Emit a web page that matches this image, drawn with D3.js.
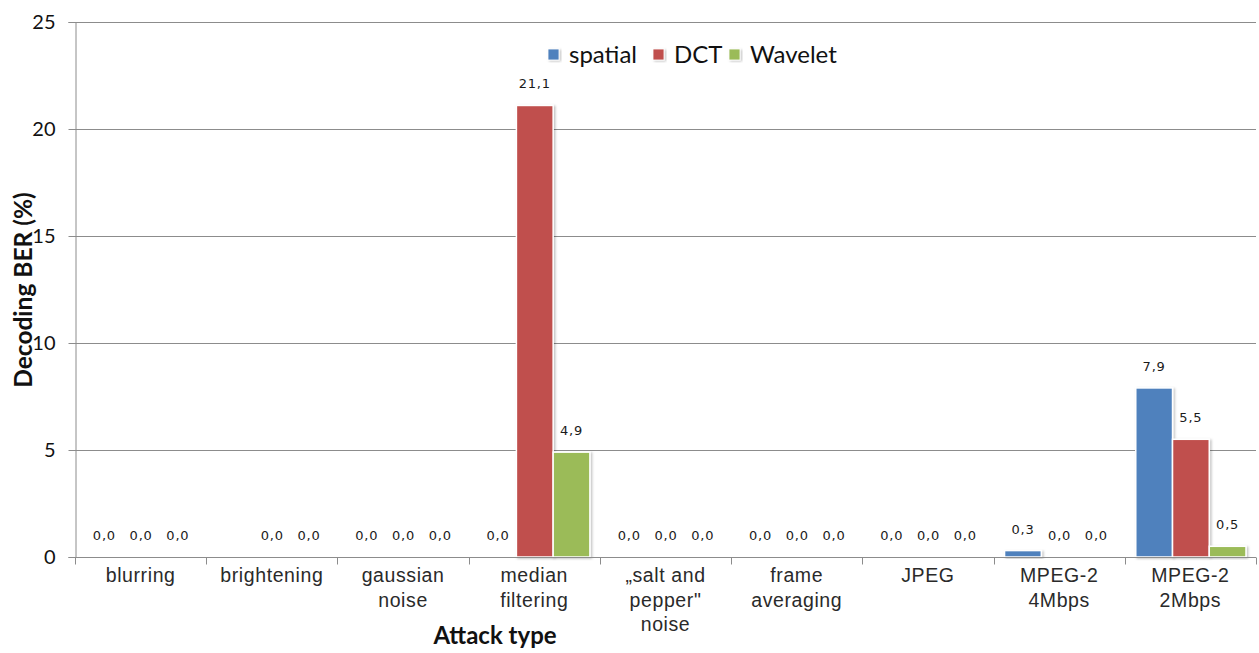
<!DOCTYPE html>
<html>
<head>
<meta charset="utf-8">
<script src="https://cdn.jsdelivr.net/npm/d3@7"></script>
<style>
  html, body { margin: 0; padding: 0; background: #fff; }
  svg { display: block; }
</style>
</head>
<body>
<svg id="chart" width="1259" height="653"></svg>
<script>
// Attack types (each entry split into the lines drawn under the axis)
const categories = [
  ["blurring"],
  ["brightening"],
  ["gaussian", "noise"],
  ["median", "filtering"],
  ["\u201Esalt and", "pepper\"", "noise"],
  ["frame", "averaging"],
  ["JPEG"],
  ["MPEG-2", "4Mbps"],
  ["MPEG-2", "2Mbps"]
];
const seriesNames = ["spatial", "DCT", "Wavelet"];
const spatial = [0.0, null, 0.0, 0.0, 0.0, 0.0, 0.0, 0.3, 7.9];
const dct     = [0.0, 0.0, 0.0, 21.1, 0.0, 0.0, 0.0, 0.0, 5.5];
const wavelet = [0.0, 0.0, 0.0, 4.9, 0.0, 0.0, 0.0, 0.0, 0.5];
const yTicks = [0, 5, 10, 15, 20, 25];
const colors = ["#4F81BD", "#C0504D", "#9BBB59"];

const series = [spatial, dct, wavelet];
const svg = d3.select("#chart");
const plotLeft = 75, plotRight = 1256, plotTop = 22, plotBottom = 557;
const titleFont = "Lato, 'Open Sans', sans-serif";

const x = d3.scaleBand()
  .domain(d3.range(categories.length))
  .range([plotLeft, plotRight])
  .paddingInner(0).paddingOuter(0);

// three bars side by side inside each category, with a gap at both ends
const gapEnd = x.bandwidth() * 0.08;
const inner = d3.scaleBand()
  .domain(d3.range(series.length))
  .range([gapEnd + 0.5, x.bandwidth() - gapEnd + 0.5])
  .paddingInner(0).paddingOuter(0);

const y = d3.scaleLinear().domain([0, 25]).range([plotBottom, plotTop]);

const fmt = v => d3.format(".1f")(v).replace(".", ",");

// drop shadow for the bars
const defs = svg.append("defs");
const f = defs.append("filter").attr("id", "shadow")
  .attr("x", "-20%").attr("y", "-20%").attr("width", "140%").attr("height", "140%");
f.append("feDropShadow").attr("dx", 1.5).attr("dy", 1).attr("stdDeviation", 1.2)
  .attr("flood-color", "#000").attr("flood-opacity", 0.25);

// gridlines
svg.append("g")
  .selectAll("line")
  .data(yTicks.filter(t => t > 0))
  .join("line")
  .attr("x1", plotLeft).attr("x2", plotRight)
  .attr("y1", d => Math.round(y(d)) + 0.5).attr("y2", d => Math.round(y(d)) + 0.5)
  .attr("stroke", "#8c8c8c").attr("stroke-width", 1);

// y axis
const yAxis = svg.append("g")
  .attr("transform", `translate(${plotLeft + 0.5},0)`)
  .call(d3.axisLeft(y).tickValues(yTicks).tickSize(7).tickPadding(13).tickFormat(d3.format("d")));
yAxis.select(".domain").attr("stroke", "#8c8c8c");
yAxis.selectAll(".tick line").attr("stroke", "#8c8c8c");
yAxis.selectAll(".tick text")
  .attr("font-family", titleFont)
  .attr("font-size", 20).attr("fill", "#111");

// bars
const groups = svg.append("g")
  .selectAll("g")
  .data(categories.map((c, i) => i))
  .join("g")
  .attr("transform", i => `translate(${x(i)},0)`);

groups.selectAll("rect")
  .data(i => series.map((s, k) => ({ k, v: s[i] })).filter(d => d.v !== null && d.v > 0))
  .join("rect")
  .attr("x", d => inner(d.k))
  .attr("width", inner.bandwidth())
  .attr("y", d => y(d.v))
  .attr("height", d => y(0) - y(d.v))
  .attr("fill", d => colors[d.k])
  .attr("stroke", "#fff").attr("stroke-width", 1.5)
  .attr("filter", "url(#shadow)");

// value labels
groups.selectAll("text")
  .data(i => series.map((s, k) => ({ k, v: s[i] })).filter(d => d.v !== null))
  .join("text")
  .attr("x", d => inner(d.k) + inner.bandwidth() / 2)
  .attr("y", d => y(d.v) - 17)
  .attr("text-anchor", "middle")
  .attr("font-family", "'DejaVu Sans', sans-serif")
  .attr("font-size", 13)
  .attr("letter-spacing", 0.8)
  .attr("fill", "#1a1a1a")
  .text(d => fmt(d.v));

// x axis
const xAxis = svg.append("g")
  .attr("transform", `translate(0,${plotBottom + 0.5})`);
xAxis.append("line").attr("x1", plotLeft).attr("x2", plotRight)
  .attr("stroke", "#8c8c8c");
xAxis.selectAll("line.tk")
  .data(d3.range(categories.length + 1))
  .join("line").attr("class", "tk")
  .attr("x1", i => Math.round(plotLeft + i * x.step()) + 0.5)
  .attr("x2", i => Math.round(plotLeft + i * x.step()) + 0.5)
  .attr("y1", 0).attr("y2", 7)
  .attr("stroke", "#8c8c8c");

const catLabels = svg.append("g")
  .selectAll("text")
  .data(categories.map((c, i) => ({ c, i })))
  .join("text")
  .attr("x", d => x(d.i) + x.bandwidth() / 2)
  .attr("y", 582)
  .attr("text-anchor", "middle")
  .attr("font-family", "'Liberation Sans', Arial, sans-serif")
  .attr("font-size", 19.5)
  .attr("letter-spacing", 0.6)
  .attr("fill", "#2a2a2a");
catLabels.selectAll("tspan")
  .data(d => d.c.map((line, j) => ({ line, j, cx: x(d.i) + x.bandwidth() / 2 })))
  .join("tspan")
  .attr("x", d => d.cx)
  .attr("dy", d => d.j === 0 ? 0 : 24.5)
  .text(d => d.line);

// axis titles
svg.append("text")
  .attr("transform", "translate(32,290) rotate(-90)")
  .attr("text-anchor", "middle")
  .attr("font-family", titleFont)
  .attr("font-weight", "bold").attr("font-size", 24.5)
  .attr("fill", "#111")
  .text("Decoding BER (%)");

svg.append("text")
  .attr("x", 495).attr("y", 644)
  .attr("text-anchor", "middle")
  .attr("font-family", titleFont)
  .attr("font-weight", "bold").attr("font-size", 24)
  .attr("fill", "#111")
  .text("Attack type");

// legend
const legendItems = [
  { name: seriesNames[0], x: 548 },
  { name: seriesNames[1], x: 653 },
  { name: seriesNames[2], x: 729 }
];
const lg = svg.append("g").selectAll("g")
  .data(legendItems.map((d, k) => ({ ...d, k })))
  .join("g")
  .attr("transform", d => `translate(${d.x},0)`);
lg.append("rect")
  .attr("x", 0).attr("y", 49).attr("width", 11).attr("height", 11)
  .attr("fill", d => colors[d.k])
  .attr("stroke", "#fff").attr("stroke-width", 0.8)
  .attr("filter", "url(#shadow)");
lg.append("text")
  .attr("x", 21).attr("y", 63)
  .attr("font-family", titleFont)
  .attr("font-size", 24).attr("fill", "#111")
  .text(d => d.name);
</script>
</body>
</html>
